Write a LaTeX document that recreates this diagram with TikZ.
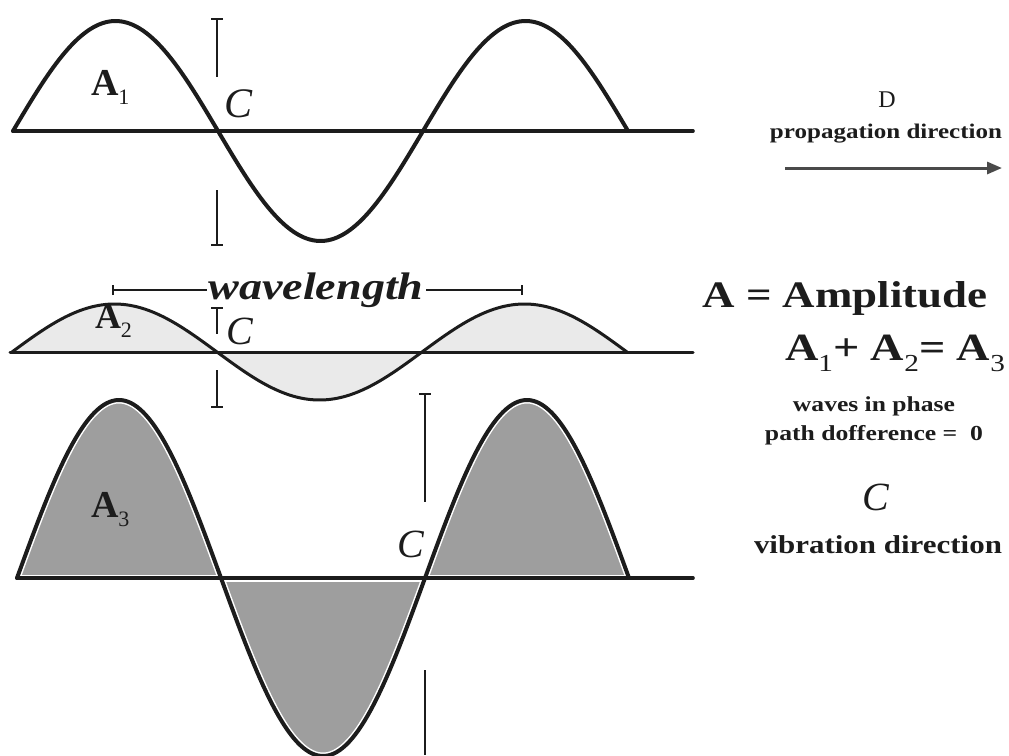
\documentclass[tikz,border=0pt]{standalone}
\usepackage{fontspec}
\usepackage{graphicx}
\setmainfont{Liberation Serif}
\usetikzlibrary{arrows.meta}
\definecolor{ink}{HTML}{1C1C1C}
\definecolor{graythree}{HTML}{9E9E9E}
\definecolor{graytwo}{HTML}{EAEAEA}
\definecolor{arrowgray}{HTML}{4A4A4A}
\newcommand{\fitw}[2]{\resizebox{#1pt}{!}{\scalebox{1.2}[1]{#2}}}
\newcommand{\subdig}[3]{\raisebox{#1pt}{\fontsize{#2}{#2}\selectfont\mdseries #3}}
\begin{document}
\begin{tikzpicture}[x=1pt,y=-1pt,
  wave/.style={draw=ink,line width=4pt,line join=round,line cap=round},
  axisline/.style={draw=ink,line width=3.6pt,line cap=round},
  halo/.style={draw=white,line width=7pt,line join=round},
  cbar/.style={draw=ink,line width=1.1pt},
  lbl/.style={inner sep=0pt,outer sep=0pt,text=ink}]
\useasboundingbox (0,0) rectangle (1009,755);

% ---------- wave 1 ----------
\draw[axisline] (13,131) -- (693,131);
\draw[wave] plot[domain=13:628,samples=200] (\x,{131-110*sin((\x-13)/205*180)});

% ---------- wave 2 ----------
\fill[graytwo] plot[domain=12:627,samples=200] (\x,{352-48*sin((\x-12)/205*180)}) -- cycle;
\draw[axisline,line width=3pt] (10,352) -- (693,352);
\draw[wave,line width=3pt] plot[domain=12:627,samples=200] (\x,{352-48*sin((\x-12)/205*180)});

% ---------- wave 3 ----------
\fill[graythree] plot[domain=17:629,samples=200] (\x,{578-178*sin((\x-17)/204*180)}) -- cycle;
\draw[halo] plot[domain=17:629,samples=200] (\x,{578-178*sin((\x-17)/204*180)});
\draw[halo] (17,578) -- (629,578);
\draw[axisline] (17,578) -- (693,578);
\draw[wave] plot[domain=17:629,samples=200] (\x,{578-178*sin((\x-17)/204*180)});

% ---------- C bars ----------
\draw[cbar] (211,19) -- (223,19);
\draw[cbar] (217,19) -- (217,77);
\draw[cbar] (217,190) -- (217,245);
\draw[cbar] (211,245) -- (223,245);

\draw[cbar] (211,308) -- (223,308);
\draw[cbar] (217,308) -- (217,334);
\draw[cbar] (217,370) -- (217,407);
\draw[cbar] (211,407) -- (223,407);

\draw[cbar] (419,394) -- (431,394);
\draw[cbar] (425,394) -- (425,502);
\draw[cbar] (425,670) -- (425,755);

% ---------- wavelength bar ----------
\node[lbl,anchor=base] (wl) at (316,299) {\fitw{215}{\bfseries\itshape wavelength}};
\coordinate (wlL) at (113,290);
\coordinate (wlLi) at (207,290);
\coordinate (wlRi) at (426,290);
\coordinate (wlR) at (522,290);
\draw[cbar] (wlL) -- (wlLi);
\draw[cbar] (wlRi) -- (wlR);
\draw[cbar] ([yshift=-5pt]wlL) -- ([yshift=5pt]wlL);
\draw[cbar] ([yshift=-5pt]wlR) -- ([yshift=5pt]wlR);

% ---------- wave labels ----------
\node[lbl,anchor=base west] (aone) at (91,95) {\fontsize{38}{38}\selectfont\bfseries A\subdig{-9}{22}{1}};
\node[lbl,anchor=base west] (atwo) at (95,328) {\fontsize{36}{36}\selectfont\bfseries A\subdig{-9}{22}{2}};
\node[lbl,anchor=base west] (athree) at (91,517) {\fontsize{38}{38}\selectfont\bfseries A\subdig{-9}{22}{3}};

\node[lbl,anchor=base west] (cone) at (224,117) {\fontsize{42}{42}\selectfont\itshape C};
\node[lbl,anchor=base west] (ctwo) at (226,344) {\fontsize{40}{40}\selectfont\itshape C};
\node[lbl,anchor=base west] (cthree) at (397,557) {\fontsize{40}{40}\selectfont\itshape C};

% ---------- right column ----------
\node[lbl,anchor=base] (dlab) at (887,107) {\fontsize{24}{24}\selectfont D};
\node[lbl,anchor=base] (prop) at (886,138) {\fitw{232}{\bfseries propagation direction}};
\coordinate (arrS) at (785,168);
\coordinate (arrE) at (1002,168);
\draw[arrowgray,line width=3pt,-{Triangle[length=15pt,width=12pt]}] (arrS) -- (arrE);

\node[lbl,anchor=base] (ampl) at (845,307) {\fitw{285}{\bfseries A = Amplitude}};
\node[lbl,anchor=base west] (sumeq) at (785,360) {\fitw{220}{\fontsize{30}{30}\selectfont\bfseries A\subdig{-9}{19}{1}+ A\subdig{-9}{19}{2}= A\subdig{-9}{19}{3}}};
\node[lbl,anchor=base] (inphase) at (874,411) {\fitw{162}{\bfseries waves in phase}};
\node[lbl,anchor=base] (pathdiff) at (874,440) {\fitw{218}{\bfseries path dofference =\ \ 0}};
\node[lbl,anchor=base] (cvib) at (876,510) {\fontsize{40}{40}\selectfont\itshape C};
\node[lbl,anchor=base] (vib) at (878,553) {\fitw{248}{\bfseries vibration direction}};
\end{tikzpicture}
\end{document}
